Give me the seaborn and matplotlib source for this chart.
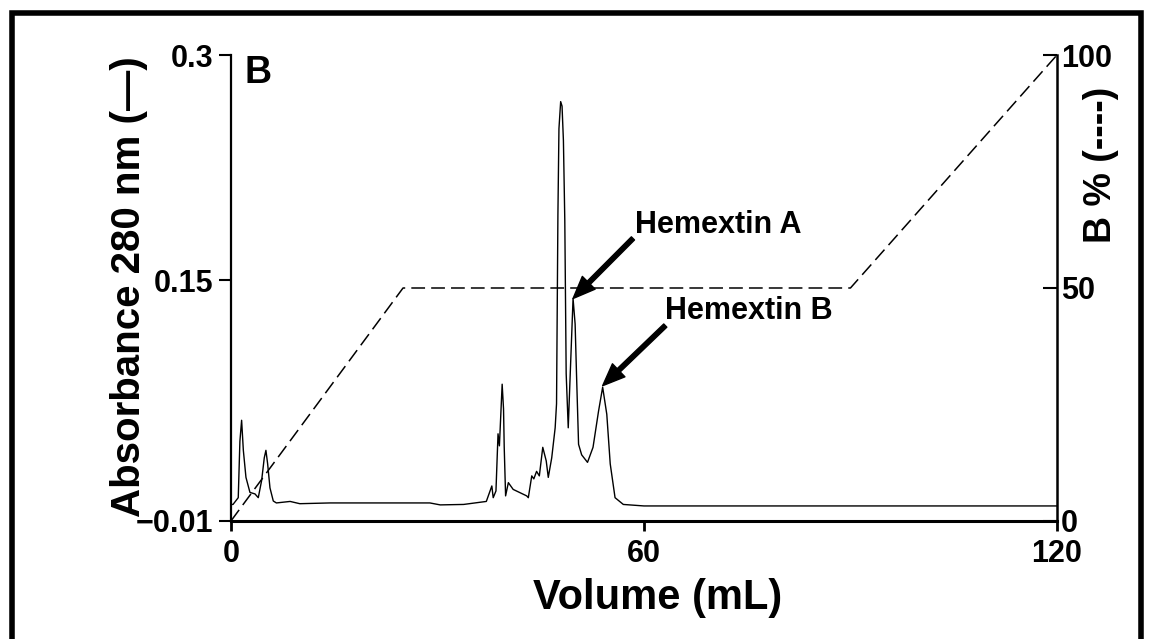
import numpy as np
import pandas as pd
import matplotlib
matplotlib.use("Agg")
import matplotlib.pyplot as plt
import matplotlib.transforms as mtransforms
from matplotlib.patches import Rectangle
import seaborn as sns

# ---------------- data ----------------
volume_ml = [0.0, 0.3, 1.06, 1.3, 1.55, 1.8, 2.18, 2.76, 3.49, 3.97, 4.46, 4.84, 5.08, 5.33,
             5.67, 6.15, 6.6, 8.6, 10.0, 14.4, 28.9, 30.4, 33.8, 37.1, 37.9, 38.1, 38.5,
             38.8, 39.0, 39.4, 39.6, 39.7, 39.9, 40.3, 41.0, 42.96, 43.2, 43.7, 44.0, 44.4,
             44.8, 45.3, 45.8, 46.1, 46.6, 47.1, 47.3, 47.5, 47.65, 47.9, 48.1, 48.3, 48.5,
             48.7, 49.0, 49.25, 49.7, 50.0, 50.2, 50.5, 50.95, 51.8, 52.6, 53.4, 54.0, 54.6,
             55.1, 55.8, 57.0, 60.0, 70.0, 75.0, 80.0, 85.0, 90.0, 100.0, 110.0, 120.0]
absorbance = [0.001, 0.001, 0.0055, 0.043, 0.057, 0.037, 0.019, 0.009, 0.008, 0.0055, 0.017,
              0.032, 0.037, 0.028, 0.012, 0.0033, 0.002, 0.003, 0.0015, 0.002, 0.002, 0.0007,
              0.001, 0.003, 0.0133, 0.0055, 0.01, 0.048, 0.04, 0.081, 0.0645, 0.039, 0.0067,
              0.0155, 0.011, 0.0067, 0.0055, 0.02, 0.018, 0.023, 0.02, 0.039, 0.03, 0.019,
              0.032, 0.052, 0.068, 0.194, 0.251, 0.269, 0.266, 0.243, 0.19, 0.088, 0.052,
              0.083, 0.138, 0.121, 0.088, 0.041, 0.034, 0.029, 0.039, 0.063, 0.079, 0.061,
              0.028, 0.0055, 0.001, 0.0, 0.0, 0.0, 0.0, 0.0, 0.0, 0.0, 0.0, 0.0]

gradient_volume = [0, 25, 90, 120]
gradient_b_pct = [0, 50, 50, 100]

x_ticks = [0, 60, 120]
x_tick_labels = ["0", "60", "120"]
y_ticks = [-0.01, 0.15, 0.3]
y_tick_labels = ["\u22120.01", "0.15", "0.3"]
y2_ticks = [0, 50, 100]
y2_tick_labels = ["0", "50", "100"]

annot_labels = ["Hemextin A", "Hemextin B"]
annot_heads = [(49.7, 0.138), (54.0, 0.080)]
annot_tails = [(58.4, 0.178), (63.1, 0.120)]
annot_text_pos = [(58.7, 0.187), (63.1, 0.130)]

# ---------------- styling ----------------
sns.set_theme(style="white")
plt.rcParams["font.family"] = ["Liberation Sans", "DejaVu Sans"]
plt.rcParams["font.weight"] = "bold"
plt.rcParams["text.color"] = "black"
plt.rcParams["axes.labelcolor"] = "black"
plt.rcParams["xtick.color"] = "black"
plt.rcParams["ytick.color"] = "black"
plt.rcParams["axes.edgecolor"] = "black"

fig = plt.figure(figsize=(11.49, 6.39), dpi=100)
fig.patch.set_facecolor("white")
ax = fig.add_axes([0.2010, 0.1847, 0.7189, 0.7292])
ax.set_facecolor("none")

sig = pd.DataFrame({"Volume": volume_ml, "Abs": absorbance})
sns.lineplot(data=sig, x="Volume", y="Abs", ax=ax, color="black", linewidth=1.0,
             estimator=None, sort=False)

ax2 = ax.twinx()
ax2.set_position(ax.get_position())
grad = pd.DataFrame({"Volume": gradient_volume, "B": gradient_b_pct})
sns.lineplot(data=grad, x="Volume", y="B", ax=ax2, color="black", linewidth=1.1,
             estimator=None, sort=False, linestyle=(0, (9, 4)))

ax.set_xlim(0, 120)
ax.set_ylim(-0.01, 0.3)
ax2.set_ylim(0, 100)

ax.set_xticks(x_ticks)
ax.set_xticklabels(x_tick_labels, fontsize=22, fontweight="bold", color="black")
ax.set_yticks(y_ticks)
ax.set_yticklabels(y_tick_labels, fontsize=22, fontweight="bold", color="black")
ax2.set_yticks(y2_ticks)
ax2.set_yticklabels(y2_tick_labels, fontsize=22, fontweight="bold", color="black")

# nudge the right-hand "0" slightly upward as in the reference
lbl0 = ax2.get_yticklabels()[0]
lbl0.set_transform(lbl0.get_transform() +
                   mtransforms.ScaledTranslation(0, 8 / 72, fig.dpi_scale_trans))

for a in (ax, ax2):
    a.spines["top"].set_visible(False)
    for s in a.spines.values():
        s.set_color("black")
ax.spines["left"].set_linewidth(1.6)
ax.spines["bottom"].set_linewidth(2.2)
ax.spines["right"].set_visible(False)
ax2.spines["left"].set_visible(False)
ax2.spines["bottom"].set_visible(False)
ax2.spines["right"].set_linewidth(1.8)

ax.tick_params(axis="y", direction="out", length=9, width=1.5, pad=4, colors="black",
               left=True)
ax.tick_params(axis="x", direction="out", length=7, width=2.0, pad=6, colors="black",
               bottom=True)
ax2.tick_params(axis="y", direction="in", length=10, width=1.5, pad=3, colors="black",
                right=True)
ax.grid(False)
ax2.grid(False)

ax.set_xlabel("Volume (mL)", fontsize=30, fontweight="bold", color="black")
ax.xaxis.set_label_coords(0.516, -0.165)
ax.xaxis.label.set_va("center")
ax.set_ylabel("Absorbance 280 nm (\u2014)", fontsize=29, fontweight="bold", color="black")
ax.yaxis.set_label_coords(-0.124, 0.502)
ax.yaxis.label.set_va("center")
ax2.set_ylabel("B % (----)", fontsize=27, fontweight="bold", color="black")
ax2.yaxis.set_label_coords(1.053, 0.764)
ax2.yaxis.label.set_va("center")

ax.text(0.017, 1.0, "B", transform=ax.transAxes, ha="left", va="top",
        fontsize=27, fontweight="bold", color="black")

for lab, head, tail, tpos in zip(annot_labels, annot_heads, annot_tails, annot_text_pos):
    ax.annotate("", xy=head, xytext=tail, xycoords="data", textcoords="data",
                arrowprops=dict(facecolor="black", edgecolor="black", width=3.2,
                                headwidth=13, headlength=16, shrink=0.0))
    ax.text(tpos[0], tpos[1], lab, ha="left", va="center", fontsize=22,
            fontweight="bold", color="black")

# outer frame of the panel
fig.patches.append(Rectangle((12 / 1149, -0.05), (1141 - 12) / 1149, 1.05 - 13 / 639,
                             transform=fig.transFigure, fill=False, edgecolor="black",
                             linewidth=4, clip_on=False))

fig.savefig("out.png", dpi=100, facecolor="white")
